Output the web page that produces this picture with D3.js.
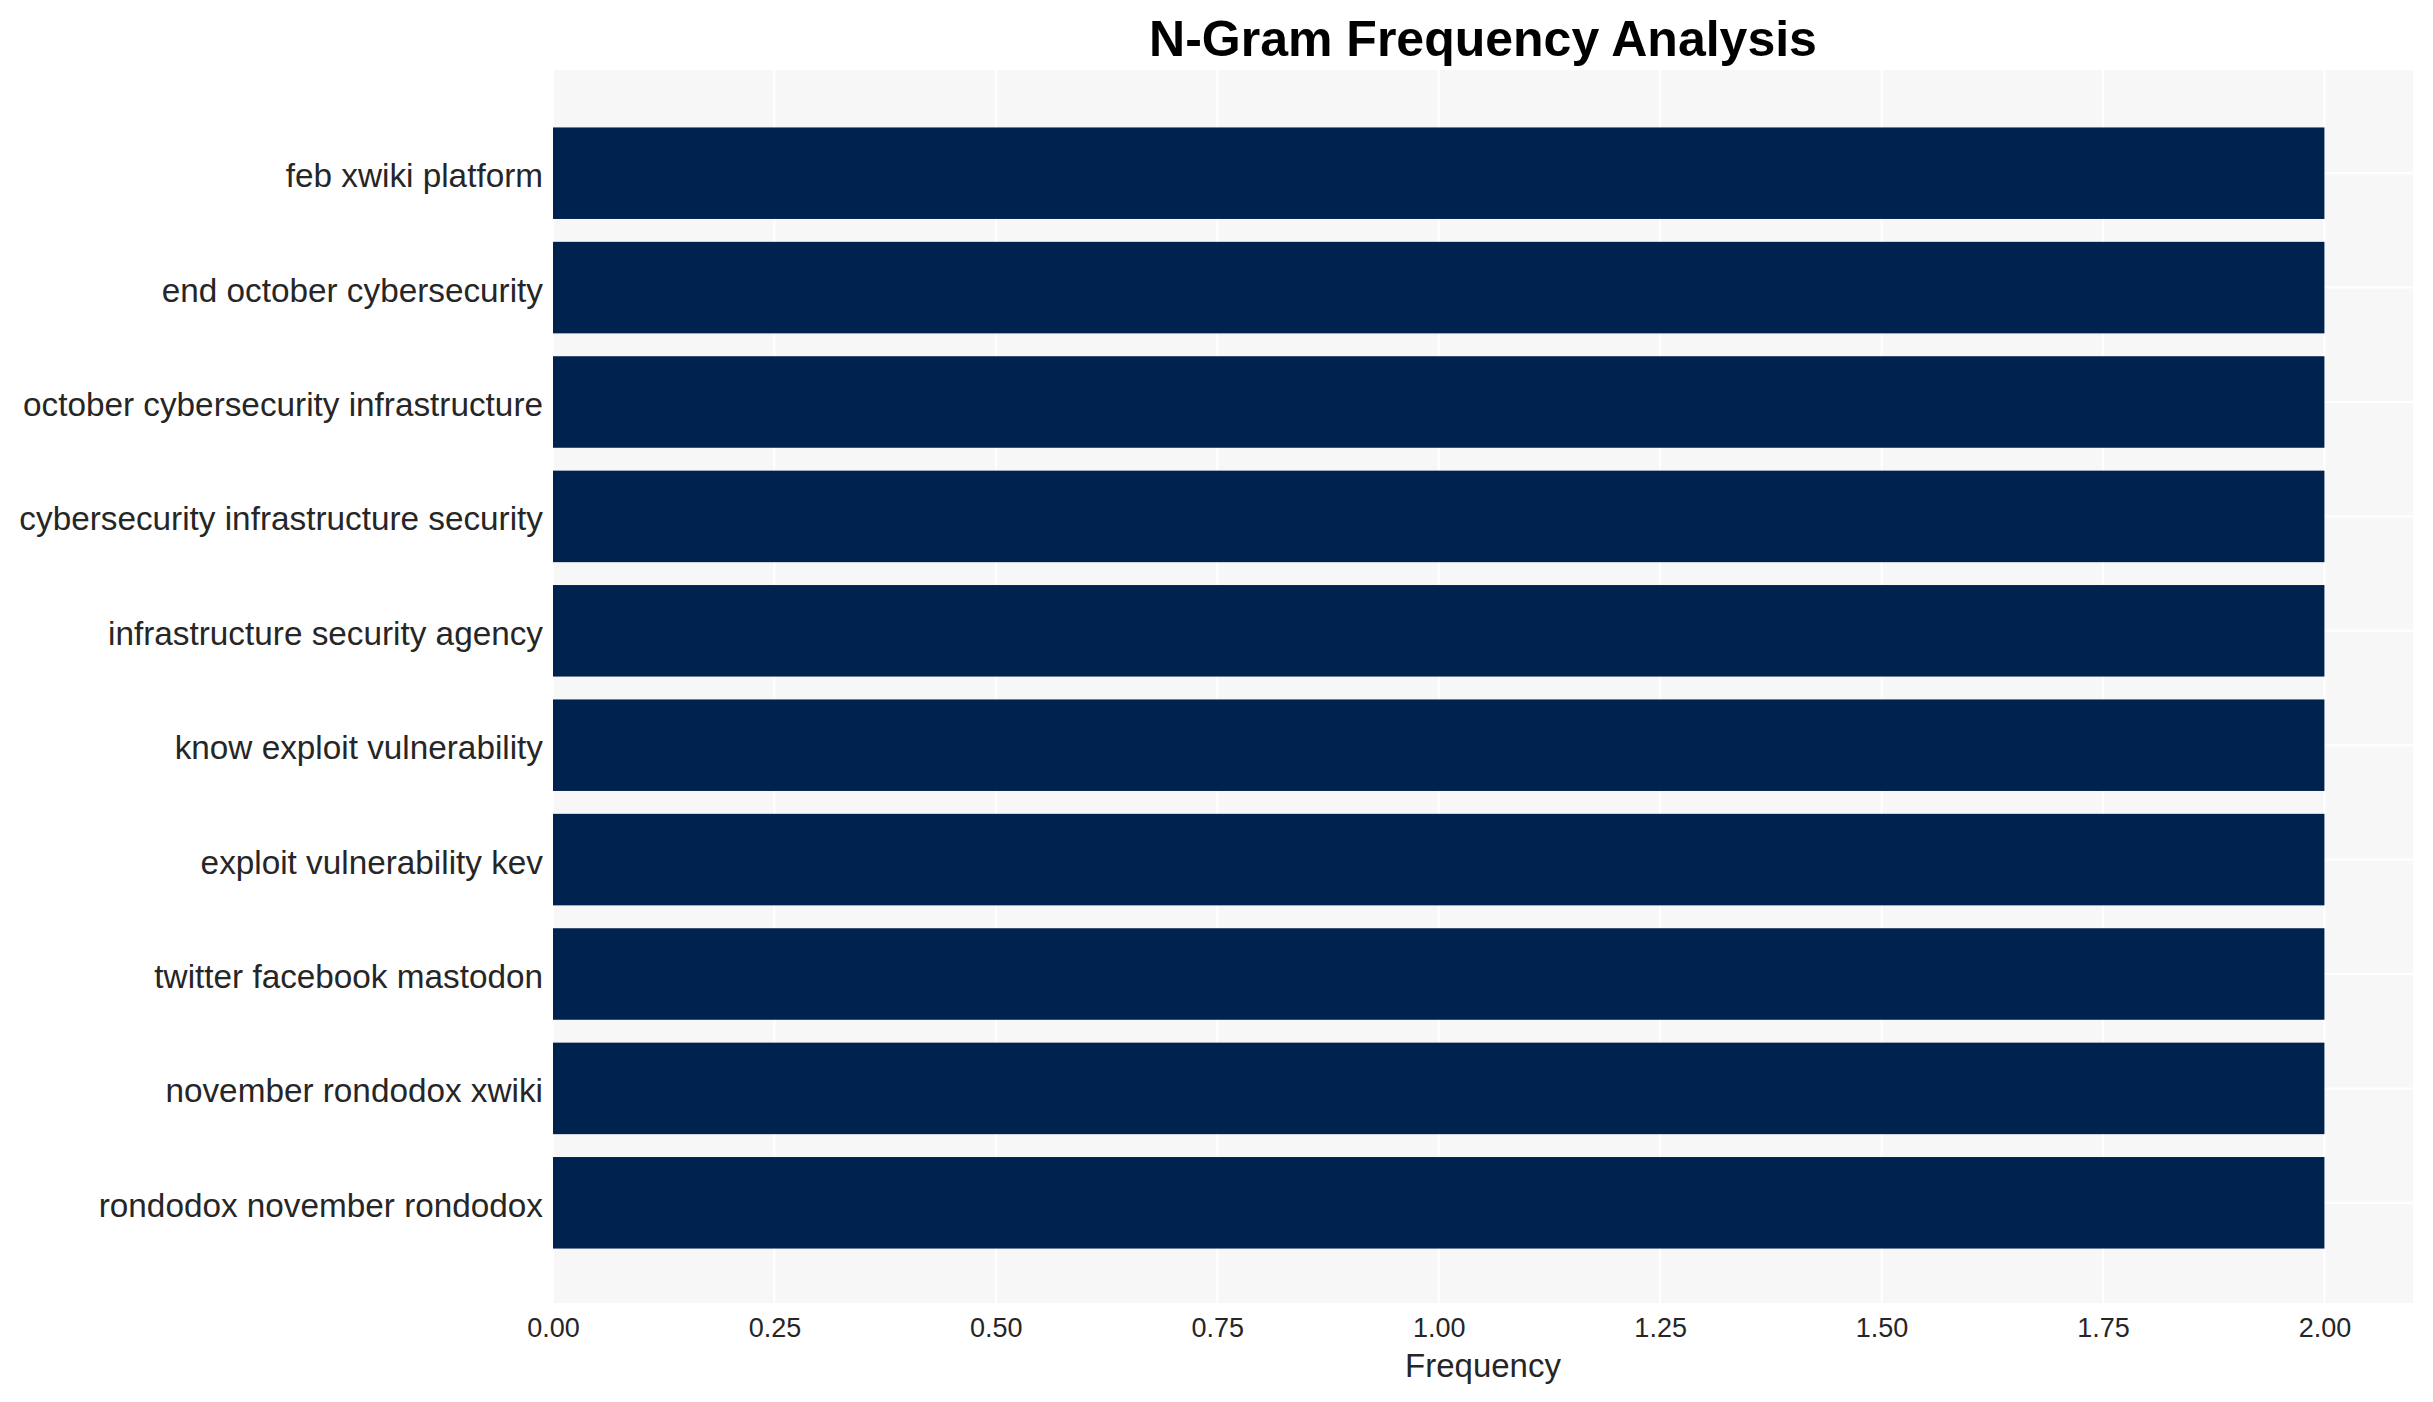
<!DOCTYPE html>
<html>
<head>
<meta charset="utf-8">
<script src="https://cdn.jsdelivr.net/npm/d3@7"></script>
<style>
  html, body { margin: 0; padding: 0; background: #ffffff; }
  svg { display: block; }
  text { font-family: "Liberation Sans", Arial, Helvetica, sans-serif; }
</style>
</head>
<body>
<svg id="chart" width="2433" height="1402"></svg>
<script>
const categories = [
  "feb xwiki platform",
  "end october cybersecurity",
  "october cybersecurity infrastructure",
  "cybersecurity infrastructure security",
  "infrastructure security agency",
  "know exploit vulnerability",
  "exploit vulnerability kev",
  "twitter facebook mastodon",
  "november rondodox xwiki",
  "rondodox november rondodox"
];
const frequencies = [2, 2, 2, 2, 2, 2, 2, 2, 2, 2];
const xTicks = [0, 0.25, 0.5, 0.75, 1.0, 1.25, 1.5, 1.75, 2.0];
const titleText = "N-Gram Frequency Analysis";
const xLabelText = "Frequency";

const W = 2433, H = 1402;
const plot = { left: 553, right: 2413, top: 70, bottom: 1303 };

const svg = d3.select("#chart");

const x = d3.scaleLinear().domain([0, 2.1]).range([plot.left, plot.right]);
const y = d3.scaleBand()
  .domain(categories)
  .range([plot.top + 46, plot.bottom - 43])
  .paddingInner(0.2)
  .paddingOuter(0.1);

// plot background
svg.append("rect")
  .attr("x", plot.left).attr("y", plot.top)
  .attr("width", plot.right - plot.left)
  .attr("height", plot.bottom - plot.top)
  .attr("fill", "#f7f7f7");

// grid lines
svg.append("g").selectAll("line.v")
  .data(xTicks).join("line")
  .attr("x1", d => x(d)).attr("x2", d => x(d))
  .attr("y1", plot.top).attr("y2", plot.bottom)
  .attr("stroke", "#ffffff").attr("stroke-width", 2);

svg.append("g").selectAll("line.h")
  .data(categories).join("line")
  .attr("x1", plot.left).attr("x2", plot.right)
  .attr("y1", d => y(d) + y.bandwidth() / 2)
  .attr("y2", d => y(d) + y.bandwidth() / 2)
  .attr("stroke", "#ffffff").attr("stroke-width", 2);

// bars
svg.append("g").selectAll("rect")
  .data(categories.map((c, i) => ({ c, v: frequencies[i] })))
  .join("rect")
  .attr("x", x(0))
  .attr("y", d => y(d.c))
  .attr("width", d => x(d.v) - x(0))
  .attr("height", y.bandwidth())
  .attr("fill", "#00224e");

// x axis
const xAxis = d3.axisBottom(x)
  .tickValues(xTicks)
  .tickFormat(d3.format(".2f"))
  .tickSize(0)
  .tickPadding(15);
const gx = svg.append("g")
  .attr("transform", `translate(0,${plot.bottom})`)
  .call(xAxis);
gx.select(".domain").remove();
gx.selectAll("text")
  .attr("font-size", 27)
  .attr("fill", "#262626")
  .attr("font-family", "Liberation Sans, Arial, sans-serif");

// y axis
const yAxis = d3.axisLeft(y).tickSize(0).tickPadding(10);
const gy = svg.append("g")
  .attr("transform", `translate(${plot.left},0)`)
  .call(yAxis);
gy.select(".domain").remove();
gy.selectAll("text")
  .attr("font-size", 33.3)
  .attr("dy", "0.42em")
  .attr("fill", "#262626")
  .attr("font-family", "Liberation Sans, Arial, sans-serif");

// title
svg.append("text")
  .attr("x", (plot.left + plot.right) / 2)
  .attr("y", 56)
  .attr("text-anchor", "middle")
  .attr("font-size", 50)
  .attr("font-weight", "bold")
  .attr("fill", "#000000")
  .text(titleText);

// x label
svg.append("text")
  .attr("x", (plot.left + plot.right) / 2)
  .attr("y", 1377)
  .attr("text-anchor", "middle")
  .attr("font-size", 33)
  .attr("fill", "#262626")
  .text(xLabelText);
</script>
</body>
</html>
